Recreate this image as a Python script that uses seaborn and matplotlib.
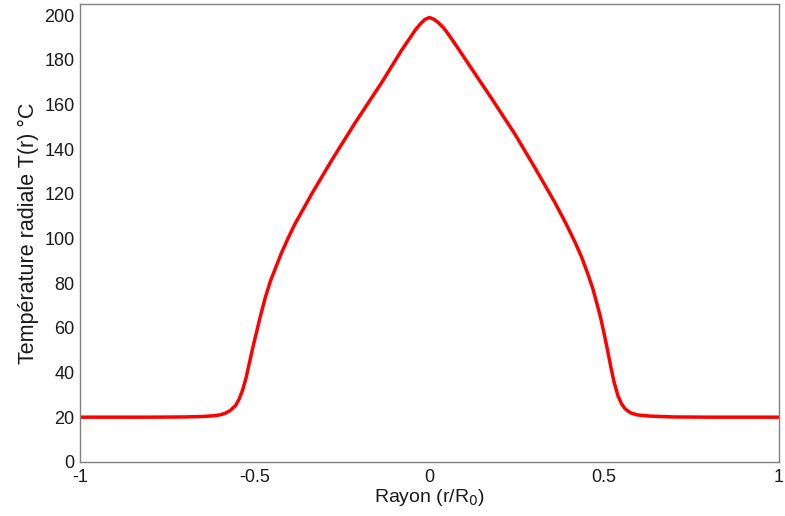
import matplotlib
matplotlib.use('agg')
import numpy as np
import pandas as pd
import matplotlib.pyplot as plt
import seaborn as sns

sns.set_style("white")
plt.rcParams['font.family'] = ['Liberation Sans', 'DejaVu Sans']

# values
rayon = [-1.0, -0.9, -0.8, -0.7, -0.65, -0.62, -0.6, -0.585, -0.57, -0.555,
         -0.545, -0.535, -0.525, -0.515, -0.505, -0.495, -0.485, -0.47, -0.455, -0.44,
         -0.425, -0.405, -0.385, -0.36, -0.335, -0.278, -0.212, -0.136, -0.079, -0.055,
         -0.04, -0.025, -0.012, 0.0, 0.012, 0.025, 0.04, 0.054, 0.08, 0.111,
         0.177, 0.244, 0.301, 0.358, 0.39, 0.415, 0.435, 0.453, 0.468, 0.481,
         0.491, 0.50, 0.51, 0.52, 0.529, 0.54, 0.55, 0.56, 0.575, 0.595,
         0.63, 0.661, 0.7, 0.8, 0.9, 1.0]
temperature = [20.0, 20.0, 20.0, 20.1, 20.3, 20.6, 21.0, 21.7, 23.0, 25.2,
               28.0, 32.0, 37.5, 44.5, 51.5, 58.0, 64.5, 73.5, 81.0, 87.0,
               93.0, 100.0, 106.5, 113.5, 120.5, 135.5, 152.0, 170.0, 184.5, 190.0,
               193.5, 196.3, 198.2, 199.0, 198.3, 196.8, 194.5, 191.6, 185.7, 178.4,
               163.0, 147.0, 132.0, 116.5, 107.0, 99.0, 92.0, 84.4, 77.5, 70.0,
               64.0, 57.5, 50.0, 42.0, 35.5, 29.5, 26.0, 23.8, 22.0, 21.0,
               20.5, 20.3, 20.1, 20.0, 20.0, 20.0]

x_ticks = [-1, -0.5, 0, 0.5, 1]
x_ticklabels = ['-1', '-0.5', '0', '0.5', '1']
y_ticks = [0, 20, 40, 60, 80, 100, 120, 140, 160, 180, 200]

df = pd.DataFrame({'r': rayon, 'T': temperature})

fig = plt.figure(figsize=(7.85, 5.16), dpi=100)
ax = fig.add_axes([0.102, 0.105, 0.890, 0.887])

sns.lineplot(data=df, x='r', y='T', sort=False, estimator=None,
             color='#ff0000', linewidth=2.5, ax=ax)

ax.set_xlim(-1, 1)
ax.set_ylim(0, 205)
ax.set_xticks(x_ticks)
ax.set_xticklabels(x_ticklabels)
ax.set_yticks(y_ticks)
ax.tick_params(direction='in', length=5, width=0.8, color='#808080',
               labelsize=13, labelcolor='#1a1a1a',
               top=False, right=False)
ax.tick_params(axis='x', pad=5)
ax.tick_params(axis='y', pad=4)
for s in ax.spines.values():
    s.set_visible(True)
    s.set_color('#808080')
    s.set_linewidth(1.0)

ax.set_xlabel('Rayon (r/R$_0$)', fontsize=14, color='#1a1a1a', labelpad=1)
ax.set_ylabel('Température radiale T(r) °C', fontsize=15.5, color='#1a1a1a', labelpad=4)

fig.savefig('out.png', dpi=100)
